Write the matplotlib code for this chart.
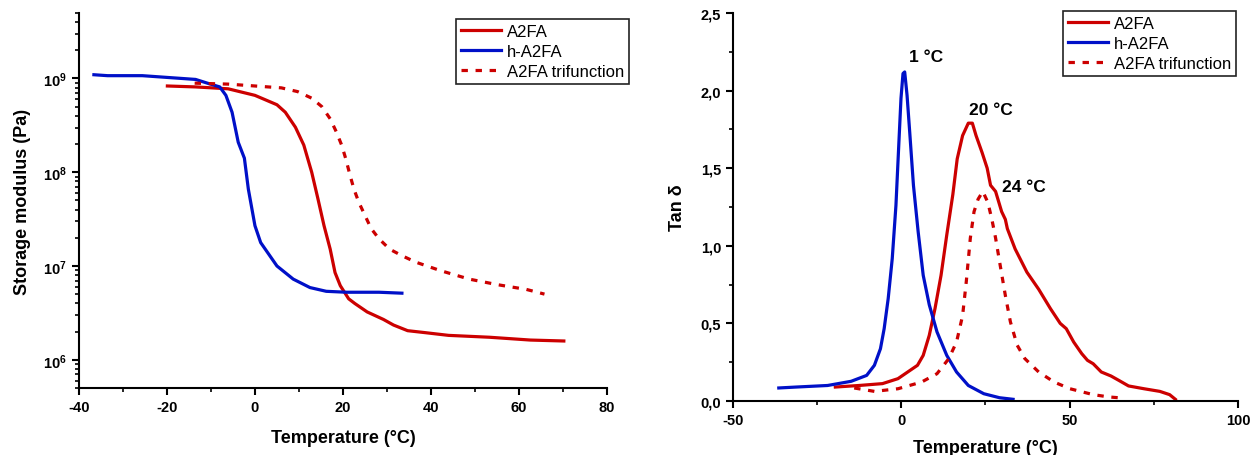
import matplotlib
matplotlib.use('Agg')
import matplotlib.pyplot as plt
from matplotlib.ticker import FixedLocator, LogLocator, NullFormatter, MultipleLocator

plt.rcParams['font.family'] = ['Liberation Sans', 'DejaVu Sans']
plt.rcParams['axes.unicode_minus'] = False
plt.rcParams['mathtext.fontset'] = 'custom'
plt.rcParams['mathtext.rm'] = 'Liberation Sans:bold'
plt.rcParams['mathtext.bf'] = 'Liberation Sans:bold'

red = '#CC0000'
blue = '#0010C8'

# storage modulus (left)
t_h_e = [-36.6, -33.5, -25.6, -13.5, -10.8, -8.0, -6.6, -5.2, -3.8, -2.4, -1.5, 0.0, 1.3,
         5.0, 8.7, 12.5, 16.2, 20.8, 28.2, 33.4]
log_h_e = [9.04, 9.03, 9.03, 8.99, 8.95, 8.91, 8.82, 8.64, 8.32, 8.15, 7.82, 7.43, 7.25,
           7.0, 6.86, 6.77, 6.73, 6.72, 6.72, 6.71]

t_a_e = [-19.9, -13.5, -6.1, 0.0, 5.0, 6.9, 9.2, 11.1, 12.9, 14.3, 15.7, 17.1, 18.2, 19.4,
         21.3, 22.7, 25.5, 29.2, 31.5, 34.7, 38.5, 44.0, 53.3, 62.6, 70.2]
log_a_e = [8.92, 8.91, 8.89, 8.82, 8.72, 8.64, 8.48, 8.29, 8.0, 7.72, 7.43, 7.18, 6.93, 6.79,
           6.65, 6.60, 6.51, 6.43, 6.37, 6.31, 6.29, 6.26, 6.24, 6.21, 6.20]

t_t_e = [-13.7, -6.1, 0.0, 6.0, 9.7, 12.9, 15.2, 17.1, 18.5, 19.7, 20.6, 21.6, 22.5, 23.6,
         25.0, 26.4, 28.2, 30.6, 33.4, 36.6, 42.2, 48.7, 55.2, 61.7, 65.8]
log_t_e = [8.95, 8.94, 8.92, 8.90, 8.86, 8.79, 8.70, 8.57, 8.43, 8.29, 8.15, 7.97, 7.82, 7.68,
           7.54, 7.40, 7.29, 7.18, 7.11, 7.04, 6.95, 6.86, 6.80, 6.75, 6.70]

# tan delta (right)
t_h_d = [-36.4, -31.2, -21.9, -14.9, -10.3, -8.0, -6.2, -5.1, -3.9, -2.7, -1.6, -0.8, -0.1,
         0.5, 1.0, 1.7, 2.5, 3.6, 5.0, 6.5, 8.3, 10.6, 13.5, 16.4, 19.9, 24.5, 29.2, 33.2]
tan_h = [0.084, 0.09, 0.10, 0.127, 0.165, 0.23, 0.337, 0.466, 0.66, 0.917, 1.26, 1.63, 1.95,
         2.11, 2.12, 1.97, 1.73, 1.39, 1.09, 0.81, 0.62, 0.445, 0.294, 0.187, 0.10, 0.047,
         0.021, 0.011]

t_a_d = [-19.6, -12.6, -5.6, -1.0, 1.9, 4.8, 6.5, 8.3, 10.0, 11.8, 13.5, 15.3, 16.6, 18.2,
         19.9, 21.1, 22.2, 24.0, 25.5, 26.5, 28.0, 29.8, 30.9, 31.5, 33.8, 37.3, 40.8, 44.3,
         47.2, 49.0, 51.2, 53.6, 55.3, 57.0, 59.4, 62.3, 64.6, 67.5, 72.1, 76.8, 79.7, 81.4]
tan_a = [0.09, 0.10, 0.112, 0.144, 0.187, 0.23, 0.294, 0.423, 0.595, 0.81, 1.07, 1.33, 1.56,
         1.71, 1.79, 1.79, 1.71, 1.60, 1.50, 1.39, 1.35, 1.22, 1.17, 1.11, 0.98, 0.83, 0.72,
         0.595, 0.50, 0.466, 0.38, 0.305, 0.262, 0.24, 0.187, 0.161, 0.133, 0.097, 0.079,
         0.062, 0.041, 0.011]

t_t_d = [-14.0, -8.0, -1.0, 6.0, 10.6, 14.1, 16.4, 18.2, 19.3, 20.5, 21.6, 22.8, 24.2, 25.7,
         26.9, 28.0, 29.4, 30.9, 32.4, 34.4, 36.7, 40.8, 45.4, 50.1, 57.0, 61.7, 65.8]
tan_t = [0.084, 0.062, 0.079, 0.122, 0.176, 0.273, 0.38, 0.55, 0.77, 1.05, 1.22, 1.30, 1.35,
         1.28, 1.17, 1.05, 0.87, 0.68, 0.51, 0.36, 0.273, 0.187, 0.122, 0.079, 0.041, 0.026,
         0.019]

peak_labels = ['1 °C', '20 °C', '24 °C']
peak_x = [2.2, 20.1, 29.9]
peak_y = [2.22, 1.88, 1.38]

labels = ['A2FA', 'h-A2FA', 'A2FA trifunction']
dots = (0, (2, 2.4))

fig = plt.figure(figsize=(12.53, 4.56), dpi=100)
ax1 = fig.add_axes([0.063, 0.147, 0.4214, 0.8224])
ax2 = fig.add_axes([0.585, 0.1184, 0.403, 0.851])

ax1.plot(t_a_e, [10 ** v for v in log_a_e], color=red, lw=2.3, label=labels[0])
ax1.plot(t_h_e, [10 ** v for v in log_h_e], color=blue, lw=2.3, label=labels[1])
ax1.plot(t_t_e, [10 ** v for v in log_t_e], color=red, lw=2.3, ls=dots, label=labels[2])
ax1.set_yscale('log')
ax1.set_ylim(5e5, 5e9)
ax1.set_xlim(-40, 80)
ax1.xaxis.set_major_locator(MultipleLocator(20))
ax1.xaxis.set_minor_locator(MultipleLocator(10))
ax1.yaxis.set_major_locator(FixedLocator([1e6, 1e7, 1e8, 1e9]))
ax1.set_yticklabels([r'$\mathbf{10^{6}}$', r'$\mathbf{10^{7}}$', r'$\mathbf{10^{8}}$', r'$\mathbf{10^{9}}$'])
ax1.yaxis.set_minor_locator(LogLocator(base=10, subs=range(2, 10)))
ax1.yaxis.set_minor_formatter(NullFormatter())
ax1.set_xlabel('Temperature (°C)', fontsize=13, fontweight='bold')
ax1.set_ylabel('Storage modulus (Pa)', fontsize=13, fontweight='bold')
ax1.yaxis.set_label_coords(-0.091, 0.5)
ax1.xaxis.set_label_coords(0.5, -0.110)

ax2.plot(t_a_d, tan_a, color=red, lw=2.3, label=labels[0])
ax2.plot(t_h_d, tan_h, color=blue, lw=2.3, label=labels[1])
ax2.plot(t_t_d, tan_t, color=red, lw=2.3, ls=dots, label=labels[2])
ax2.set_xlim(-50, 100)
ax2.set_ylim(0, 2.5)
ax2.xaxis.set_major_locator(MultipleLocator(50))
ax2.xaxis.set_minor_locator(MultipleLocator(25))
ax2.yaxis.set_major_locator(MultipleLocator(0.5))
ax2.yaxis.set_minor_locator(MultipleLocator(0.25))
ax2.set_yticks([0, 0.5, 1.0, 1.5, 2.0, 2.5])
ax2.set_yticklabels(['0,0', '0,5', '1,0', '1,5', '2,0', '2,5'])
ax2.set_xlabel('Temperature (°C)', fontsize=13, fontweight='bold')
ax2.set_ylabel('Tan δ', fontsize=13, fontweight='bold')
ax2.yaxis.set_label_coords(-0.093, 0.5)
ax2.xaxis.set_label_coords(0.5, -0.098)
for s, x, y in zip(peak_labels, peak_x, peak_y):
    ax2.text(x, y, s, fontsize=12.5, fontweight='bold', va='center', ha='left')

for ax in (ax1, ax2):
    for side in ('top', 'right'):
        ax.spines[side].set_visible(False)
    for side in ('left', 'bottom'):
        ax.spines[side].set_linewidth(1.5)
    ax.tick_params(which='major', direction='out', length=5, width=1.5, labelsize=10.5)
    ax.tick_params(which='minor', direction='out', length=3, width=1.2)
    for lab in ax.get_xticklabels() + ax.get_yticklabels():
        lab.set_fontweight('bold')

leg_opts = dict(loc='upper right', bbox_transform=fig.transFigure, borderaxespad=0,
                fancybox=False, framealpha=1, fontsize=12, handlelength=2.4,
                labelspacing=0.3, borderpad=0.3, handletextpad=0.35)
l1 = ax1.legend(bbox_to_anchor=(0.502, 0.956), **leg_opts)
l2 = ax2.legend(bbox_to_anchor=(0.9864, 0.9737), **leg_opts)
for lg in (l1, l2):
    lg.get_frame().set_edgecolor('#222222')
    lg.get_frame().set_linewidth(1.2)

fig.savefig('out.png', dpi=100)
